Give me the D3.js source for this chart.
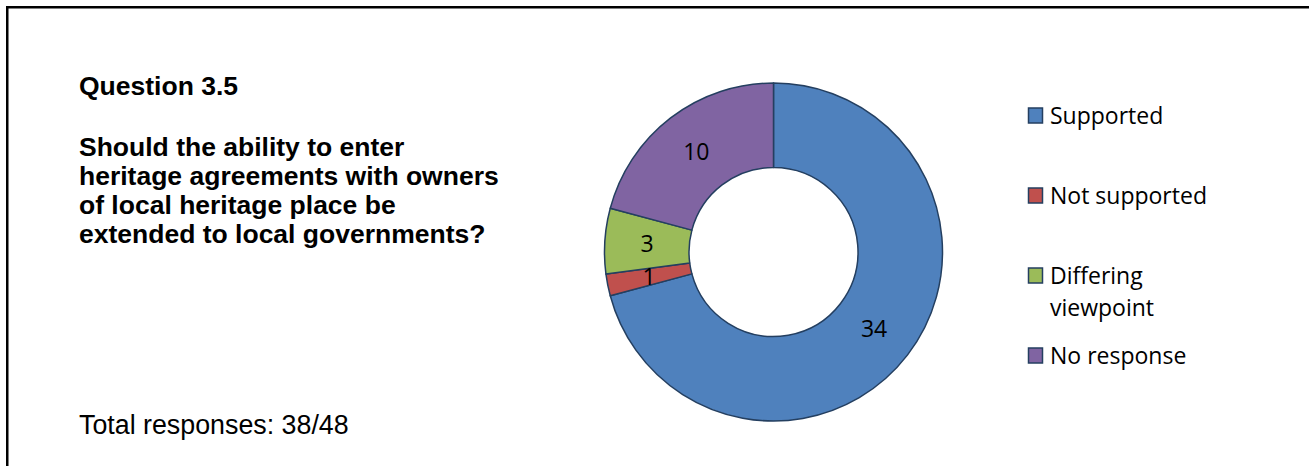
<!DOCTYPE html>
<html>
<head>
<meta charset="utf-8">
<script src="https://cdn.jsdelivr.net/npm/d3@7"></script>
<style>
  html, body { margin: 0; padding: 0; background: #fff; }
  svg { display: block; }
</style>
</head>
<body>
<svg id="chart" width="1309" height="466"></svg>
<script>
// Survey responses for question 3.5
const categories = ["Supported", "Not supported", "Differing viewpoint", "No response"];
const values = [34, 1, 3, 10];
const sliceColors = ["#4F81BD", "#C0504D", "#9BBB59", "#8064A2"];

const questionLabel = "Question 3.5";
const questionLines = [
  "Should the ability to enter",
  "heritage agreements with owners",
  "of local heritage place be",
  "extended to local governments?"
];
const totalLabel = "Total responses: 38/48";

const svg = d3.select("#chart");
const W = 1309, H = 466;

svg.append("rect").attr("width", W).attr("height", H).attr("fill", "#fff");

// outer frame (runs past the right and bottom edges)
svg.append("rect")
  .attr("x", 7.25).attr("y", 7.25)
  .attr("width", W + 100).attr("height", H + 100)
  .attr("fill", "none").attr("stroke", "#000").attr("stroke-width", 2.5);

// question text block
const textFont = "'Liberation Sans', Arial, sans-serif";
svg.append("text")
  .attr("x", 79).attr("y", 95)
  .attr("font-family", textFont).attr("font-weight", "bold").attr("font-size", 26.5)
  .attr("fill", "#000")
  .text(questionLabel);

const q = svg.append("text")
  .attr("x", 79).attr("y", 156)
  .attr("font-family", textFont).attr("font-weight", "bold").attr("font-size", 26.5)
  .attr("fill", "#000");
q.selectAll("tspan").data(questionLines).join("tspan")
  .attr("x", 79)
  .attr("dy", (d, i) => i === 0 ? 0 : 29)
  .text(d => d);

svg.append("text")
  .attr("x", 79).attr("y", 434)
  .attr("font-family", textFont).attr("font-size", 26.8)
  .attr("fill", "#000")
  .text(totalLabel);

// donut
const cx = 773.5, cy = 252;
const outerR = 169, innerR = 84.5;

const color = d3.scaleOrdinal().domain(categories).range(sliceColors);
const pie = d3.pie().sort(null).value(d => d.value);
const arc = d3.arc().innerRadius(innerR).outerRadius(outerR);

const data = categories.map((c, i) => ({ category: c, value: values[i] }));
const arcs = pie(data);

const g = svg.append("g").attr("transform", `translate(${cx},${cy})`);
g.selectAll("path.slice").data(arcs).join("path")
  .attr("class", "slice")
  .attr("d", arc)
  .attr("fill", d => color(d.data.category))
  .attr("stroke", "#243F60")
  .attr("stroke-width", 1.5)
  .attr("stroke-linejoin", "round");

const labelFont = "'Open Sans', 'Noto Sans', sans-serif";
g.selectAll("text.val").data(arcs).join("text")
  .attr("class", "val")
  .attr("transform", d => `translate(${arc.centroid(d)})`)
  .attr("text-anchor", "middle")
  .attr("dy", "0.36em")
  .attr("font-family", labelFont)
  .attr("font-size", 23)
  .attr("fill", "#000")
  .text(d => d.data.value);

// legend
const legendX = 1028, legendY0 = 115.5, legendStep = 80, sw = 15;
const wrapWidth = 170;
const legend = svg.append("g");
const items = legend.selectAll("g").data(categories).join("g")
  .attr("transform", (d, i) => `translate(${legendX},${legendY0 + i * legendStep})`);

items.append("rect")
  .attr("x", 0.5).attr("y", -sw / 2)
  .attr("width", sw - 1).attr("height", sw)
  .attr("fill", d => color(d))
  .attr("stroke", "#243F60").attr("stroke-width", 1.5);

items.each(function (d) {
  const t = d3.select(this).append("text")
    .attr("x", 22).attr("y", 8)
    .attr("font-family", labelFont).attr("font-size", 23)
    .attr("fill", "#000");
  // simple word wrap
  const words = d.split(" ");
  let line = [];
  let tspan = t.append("tspan").attr("x", 22).attr("dy", 0);
  words.forEach(w => {
    line.push(w);
    tspan.text(line.join(" "));
    if (tspan.node().getComputedTextLength() > wrapWidth && line.length > 1) {
      line.pop();
      tspan.text(line.join(" "));
      line = [w];
      tspan = t.append("tspan").attr("x", 22).attr("dy", 32).text(w);
    }
  });
});
</script>
</body>
</html>
